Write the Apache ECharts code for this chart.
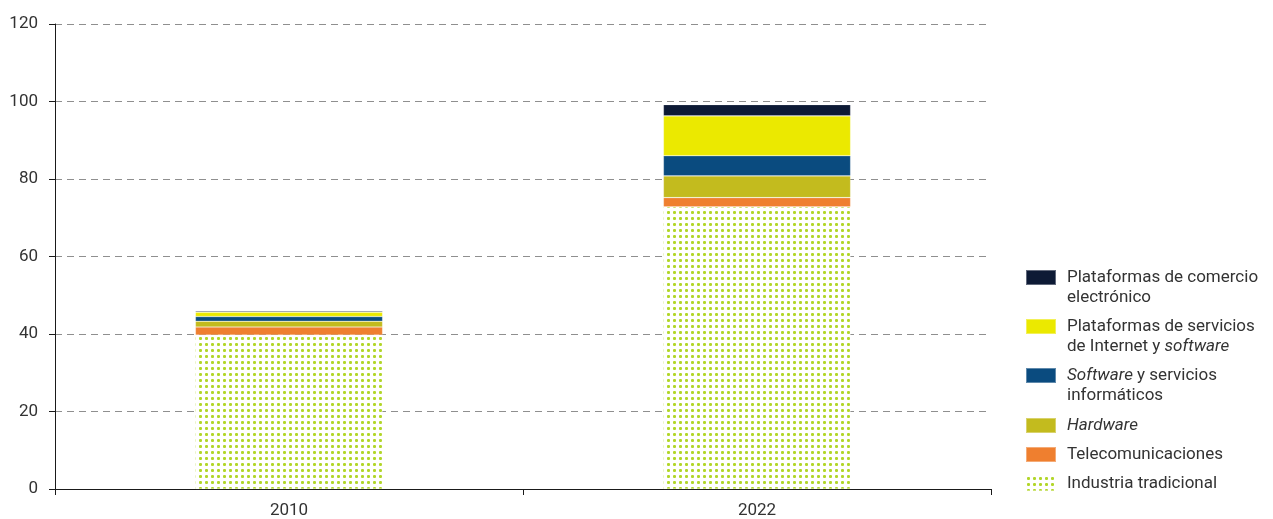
<!DOCTYPE html>
<html><head><meta charset="utf-8">
<script src="https://cdn.jsdelivr.net/npm/echarts@6/dist/echarts.min.js"></script>
<style>html,body{margin:0;padding:0;background:#fff}#c{width:1273px;height:519px}</style>
</head><body><div id="c"></div>
<script>
// ---- data ----
const categories = ['2010', '2022'];
const industria = [39.7, 72.8];
const telecom   = [2.1, 2.4];
const hardware  = [1.5, 5.6];
const software  = [1.2, 5.2];
const internet  = [1.1, 10.3];
const comercio  = [0.3, 2.9];
const yMin = 0, yMax = 120, yStep = 20;

const names = {
  comercio: 'Plataformas de comercio electrónico',
  internet: 'Plataformas de servicios de Internet y software',
  software: 'Software y servicios informáticos',
  hardware: 'Hardware',
  telecom: 'Telecomunicaciones',
  industria: 'Industria tradicional'
};
const legendRich = {};
legendRich[names.comercio] = '{n|Plataformas de comercio}\n{n|electrónico}';
legendRich[names.internet] = '{n|Plataformas de servicios}\n{n|de Internet y }{i|software}';
legendRich[names.software] = '{i|Software}{n| y servicios}\n{n|informáticos}';
legendRich[names.hardware] = '{i|Hardware}';
legendRich[names.telecom] = '{n|Telecomunicaciones}';
legendRich[names.industria] = '{n|Industria tradicional}';

const FONT = "'Roboto', 'Liberation Sans', sans-serif";
const TXT = '#333333';

function dotPattern() {
  const c = document.createElement('canvas');
  c.width = 6; c.height = 6;
  const g = c.getContext('2d');
  g.fillStyle = '#ffffff'; g.fillRect(0, 0, 6, 6);
  g.fillStyle = 'rgba(180,216,48,0.75)';
  g.fillRect(1, 1, 3, 3);
  g.fillStyle = '#b2d62a';
  g.fillRect(2, 1, 1, 3);
  g.fillRect(1, 2, 3, 1);
  return c;
}

const rich = {
  n: {fontFamily: FONT, fontSize: 17, lineHeight: 20, color: TXT},
  i: {fontFamily: FONT, fontSize: 17, lineHeight: 20, color: TXT, fontStyle: 'italic'}
};
const legendBase = {
  orient: 'vertical', left: 1025, padding: 0, itemWidth: 30,
  selectedMode: false,
  formatter: n => legendRich[n],
  textStyle: {fontFamily: FONT, fontSize: 17, color: TXT, padding: [0, 0, 0, 6], rich: rich}
};

const border = {borderColor: 'rgba(255,255,255,0.35)', borderWidth: 0.6};
function bar(name, data, color) {
  return {name: name, type: 'bar', stack: 'total', barWidth: '40%', data: data,
    itemStyle: Object.assign({color: color}, border), emphasis: {disabled: true}};
}

const chart = echarts.init(document.getElementById('c'), null, {renderer: 'canvas'});
chart.setOption({
  animation: false,
  grid: {left: 55, right: 282, top: 24, bottom: 30, containLabel: false},
  legend: [
    Object.assign({}, legendBase, {
      top: 269, itemHeight: 35, itemGap: 12,
      icon: 'path://M0,0H30V15H0Z M0,35H0.01V34.99H0Z',
      data: [names.comercio, names.internet, names.software]
    }),
    Object.assign({}, legendBase, {
      top: 417, itemHeight: 15, itemGap: 12, icon: 'rect',
      data: [names.hardware, names.telecom, names.industria]
    })
  ],
  xAxis: {
    type: 'category', data: categories,
    axisLine: {show: true, lineStyle: {color: '#1a1a1a', width: 1}},
    axisTick: {show: true, length: 6, lineStyle: {color: '#1a1a1a'}},
    axisLabel: {fontFamily: FONT, fontSize: 17, color: TXT, margin: 13}
  },
  yAxis: {
    type: 'value', min: yMin, max: yMax, interval: yStep,
    axisLine: {show: true, lineStyle: {color: '#1a1a1a', width: 1}},
    axisTick: {show: true, length: 6, lineStyle: {color: '#1a1a1a'}},
    axisLabel: {fontFamily: FONT, fontSize: 17, color: TXT, margin: 17},
    splitLine: {show: true, lineStyle: {color: '#8f8f8f', type: [7, 5], width: 1}}
  },
  series: [
    bar(names.industria, industria, {image: dotPattern(), repeat: 'repeat'}),
    bar(names.telecom, telecom, '#ef7f2f'),
    bar(names.hardware, hardware, '#c3bb1e'),
    bar(names.software, software, '#0a4b7f'),
    bar(names.internet, internet, '#ebe900'),
    bar(names.comercio, comercio, '#0d1a35')
  ]
});
</script>
</body></html>
